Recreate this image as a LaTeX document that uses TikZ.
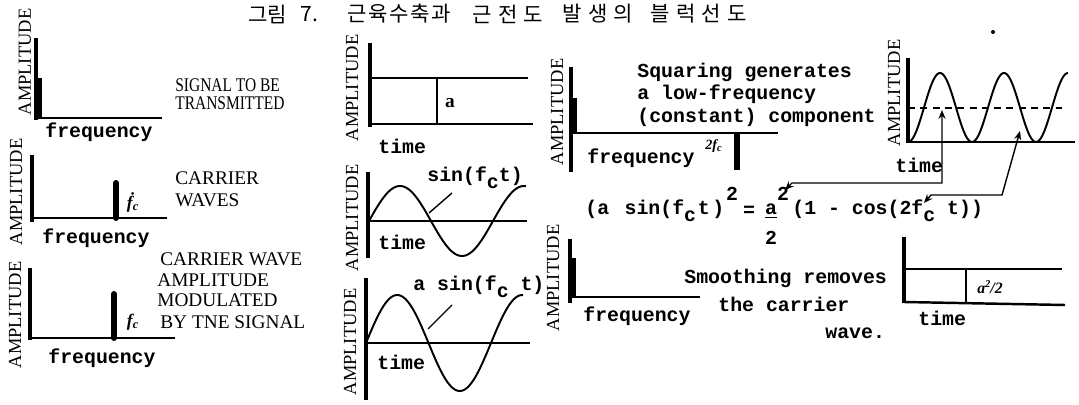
\documentclass[tikz,border=0pt]{standalone}
\usepackage{fontspec}
\setmainfont{Liberation Serif}
\newfontfamily\kor{Noto Sans CJK KR}
\newfontfamily\tw{Liberation Mono}
\newfontfamily\narrowserif[FakeStretch=0.8]{Liberation Serif}
\usetikzlibrary{arrows.meta}
\tikzset{
 ax/.style={line width=1.8pt},
 hax/.style={line width=1.4pt},
 thinl/.style={line width=0.8pt},
 wave/.style={line width=1.1pt},
 barl/.style={line width=3.4pt},
 amp/.style={rotate=90, inner sep=0pt, font=\fontsize{10.5}{12}\selectfont},
 lab/.style={anchor=west, inner sep=0pt, font=\fontsize{11}{13}\selectfont},
 labn/.style={anchor=west, inner sep=0pt, font=\narrowserif\fontsize{11}{13}\selectfont},
 tt/.style={anchor=west, inner sep=0pt, font=\tw\bfseries\fontsize{11.3}{13}\selectfont},
 ttc/.style={inner sep=0pt, font=\tw\bfseries\fontsize{11.3}{13}\selectfont},
 hand/.style={inner sep=0pt, font=\bfseries\itshape\fontsize{10}{12}\selectfont},
 ko/.style={anchor=west, inner sep=0pt, font=\kor\fontsize{12}{14}\selectfont},
 dbl/.style={thinl, {Stealth[length=5pt,width=4pt]}-{Stealth[length=5pt,width=4pt]}},
}
\newcommand{\kg}{\hspace{3.6pt}}
\newcommand{\kgs}{\hspace{1pt}}
\newcommand{\sbc}{\raisebox{-4pt}{c}}
\begin{document}
\begin{tikzpicture}[x=0.02cm,y=-0.02cm]
\useasboundingbox (0,0) rectangle (1079,405);
% title
\node[ko] (t1) at (248,14) {그림};
\node[ko] (t2) at (300,14) {7.};
\node[ko] (t3) at (347,14) {근\kgs 육\kgs 수\kgs 축\kgs 과};
\node[ko] (t4) at (472,14) {근\kg 전\kg 도};
\node[ko] (t5) at (562,14) {발\kg 생\kg 의};
\node[ko] (t6) at (650,14) {블\kg 럭\kg 선\kg 도};

% ---- left column, panel 1
\node[amp] (a1) at (25,62) {AMPLITUDE};
\draw[ax] (36,38) -- (36,120);
\draw[hax] (35,118) -- (162,118);
\draw[barl] (39,78) -- (39,118);
\node[tt] (f1) at (45,132) {frequency};
\node[labn] (s1) at (175,85) {SIGNAL TO BE};
\node[labn] (s2) at (175,103) {TRANSMITTED};

% ---- panel 2
\node[amp] (a2) at (16,192) {AMPLITUDE};
\draw[ax] (32,155) -- (32,222);
\draw[hax] (30,218) -- (167,218);
\draw[barl, line cap=round] (116,183) -- (116,218);
\node[hand] (fc2) at (133,202) {\.{f}\textsubscript{c}};
\node[tt] (f2) at (42,238) {frequency};
\node[lab] (c1) at (175,178) {CARRIER};
\node[lab] (c2) at (175,200) {WAVES};

% ---- panel 3
\node[amp] (a3) at (15,315) {AMPLITUDE};
\draw[ax] (30,268) -- (30,340);
\draw[hax] (28,338) -- (175,338);
\draw[barl, line cap=round] (114,294) -- (114,338);
\node[hand] (fc3) at (133,322) {f\textsubscript{c}};
\node[tt] (f3) at (48,358) {frequency};
\node[lab] (m1) at (160,259) {CARRIER WAVE};
\node[lab] (m2) at (157,280) {AMPLITUDE};
\node[lab] (m3) at (157,300) {MODULATED};
\node[lab] (m4) at (160,322) {BY TNE SIGNAL};

% ---- middle, panel M1
\node[amp] (a4) at (352,88) {AMPLITUDE};
\draw[ax] (370,43) -- (370,127);
\draw[thinl] (370,78) -- (528,78);
\draw[hax] (370,124) -- (533,124);
\draw[thinl] (437,78) -- (437,124);
\node[hand, font=\bfseries\fontsize{11}{12}\selectfont] (la) at (450,103) {a};
\node[tt] (tm1) at (378,146) {time};

% ---- panel M2
\node[amp] (a5) at (352,218) {AMPLITUDE};
\draw[ax] (368,172) -- (368,258);
\draw[hax] (368,221) -- (527,221);
\draw[wave] plot[domain=0:157, samples=100, smooth] ({369+\x},{221-35*sin(\x*2.903)});
\node[tt] (sl) at (427,178) {sin(f\sbc t)};
\coordinate (p1a) at (452,193);
\coordinate (p1b) at (429,213);
\draw[thinl] (p1a) -- (p1b);
\node[tt] (tm2) at (378,242) {time};

% ---- panel M3
\node[amp] (a6) at (350,342) {AMPLITUDE};
\draw[ax] (366,278) -- (366,400);
\draw[hax] (365,343) -- (530,343);
\draw[wave] plot[domain=0:157, samples=100, smooth] ({366+\x},{343-48*sin(\x*2.88)});
\node[tt] (asl) at (413,287) {a sin(f\sbc{} t)};
\coordinate (p2a) at (452,305);
\coordinate (p2b) at (428,329);
\draw[thinl] (p2a) -- (p2b);
\node[tt] (tm3) at (377,362) {time};

% ---- panel R1
\node[amp] (a7) at (557,112) {AMPLITUDE};
\draw[ax] (571,67) -- (571,172);
\draw[hax] (571,133) -- (778,133);
\draw[barl] (574,98) -- (574,133);
\draw[barl] (737,134) -- (737,170);
\node[hand, font=\bfseries\itshape\fontsize{8}{9}\selectfont] (l2fc) at (714,146) {2f\textsubscript{c}};
\node[tt] (f4) at (587,158) {frequency};
\node[tt] (q1) at (637,72) {Squaring generates};
\node[tt] (q2) at (637,94) {a low-frequency};
\node[tt] (q3) at (637,117) {(constant) component};

% ---- panel R2
\node[amp] (a8) at (894,93) {AMPLITUDE};
\draw[ax] (908,58) -- (908,143);
\draw[hax] (908,142) -- (1075,142);
\draw[wave] plot[domain=0:160, samples=160, smooth] ({908+\x},{142-69*(sin(\x*2.8125))^2});
\draw[thinl, dash pattern=on 4pt off 3pt] (908,108) -- (1062,108);
\node[tt] (tm4) at (895,165) {time};
\fill (993,32) circle (2);

% ---- formula
\node[tt] (eqa) at (585,211) {(a\hspace{2pt} sin(f\sbc\hspace{1pt}t\hspace{1.5pt})};
\node[ttc] (eqs1) at (732,194) {2};
\node[ttc] (eqeq) at (749,211) {=};
\node[ttc] (eqnum) at (771,211) {\underline{a}};
\node[ttc] (eqs2) at (783,194) {2};
\node[ttc] (eqden) at (771,238) {2};
\node[tt] (eqb) at (792,211) {(1 - cos(2f\sbc{} t))};

% ---- connectors
\coordinate (c1top) at (942,110);
\coordinate (c1mid) at (942,183);
\coordinate (c1left) at (792,183);
\coordinate (c1end) at (785,190);
\draw[dbl] (c1top) -- (c1mid) -- (c1left) -- (c1end);
\coordinate (c2top) at (1020,131);
\coordinate (c2mid) at (1002,195);
\coordinate (c2left) at (931,195);
\coordinate (c2end) at (924,203);
\draw[dbl] (c2top) -- (c2mid) -- (c2left) -- (c2end);

% ---- panel R3
\node[amp] (a9) at (553,278) {AMPLITUDE};
\draw[ax] (570,239) -- (570,303);
\draw[hax] (568,297) -- (700,297);
\draw[barl] (573,258) -- (573,297);
\node[tt] (f5) at (583,316) {frequency};
\node[tt] (sm1) at (684,278) {Smoothing removes};
\node[tt] (sm2) at (718,304) {the carrier};
\node[tt] (sm3) at (825,333) {wave.};

% ---- panel R4
\draw[ax] (904,237) -- (904,303);
\draw[thinl] (904,269) -- (1062,269);
\draw[hax] (904,302) -- (1065,305);
\draw[thinl] (966,269) -- (966,303);
\node[hand, font=\bfseries\itshape\fontsize{9}{10}\selectfont] (la2) at (990,287) {a\textsuperscript{2}\kern-0.5pt/2};
\node[tt] (tm5) at (918,318) {time};
\end{tikzpicture}
\end{document}
